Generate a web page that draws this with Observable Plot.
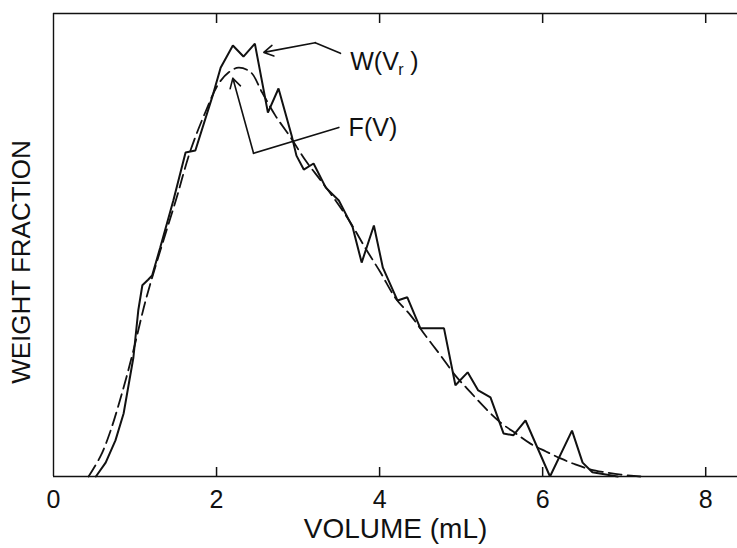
<!DOCTYPE html>
<html>
<head>
<meta charset="utf-8">
<script src="https://cdn.jsdelivr.net/npm/d3@7"></script>
<script src="https://cdn.jsdelivr.net/npm/@observablehq/plot@0.6"></script>
<style>
  html, body { margin: 0; padding: 0; background: #fff; }
  #chart svg { display: block; }
</style>
</head>
<body>
<div id="chart"></div>
<script>
// W(Vr): measured weight-fraction histogram (solid, jagged)
const volumeW = [0.52, 0.64, 0.76, 0.86, 0.98, 1.04, 1.09, 1.16, 1.21, 1.31, 1.47, 1.62, 1.74, 1.96, 2.05, 2.20, 2.33, 2.47, 2.63, 2.76, 2.92, 2.98, 3.07, 3.19, 3.34, 3.50, 3.67, 3.78, 3.93, 4.04, 4.22, 4.34, 4.50, 4.79, 4.93, 5.08, 5.21, 5.36, 5.52, 5.64, 5.79, 6.09, 6.36, 6.49, 6.61, 6.92];
const weightW = [0.000, 0.030, 0.078, 0.136, 0.257, 0.359, 0.413, 0.425, 0.434, 0.495, 0.596, 0.700, 0.704, 0.827, 0.883, 0.931, 0.907, 0.935, 0.786, 0.838, 0.737, 0.693, 0.663, 0.676, 0.624, 0.596, 0.538, 0.462, 0.542, 0.451, 0.380, 0.387, 0.320, 0.320, 0.197, 0.225, 0.186, 0.171, 0.093, 0.089, 0.121, 0.000, 0.099, 0.030, 0.009, 0.000];

// F(V): fitted smooth distribution (dashed)
const volumeF = [0.43, 0.58, 0.70, 0.85, 0.98, 1.13, 1.31, 1.50, 1.68, 1.87, 2.02, 2.15, 2.27, 2.42, 2.56, 2.72, 2.91, 3.09, 3.28, 3.46, 3.64, 3.83, 4.01, 4.20, 4.38, 4.56, 4.75, 4.93, 5.12, 5.30, 5.48, 5.67, 5.85, 6.04, 6.22, 6.40, 6.59, 6.77, 6.96, 7.20];
const fractionF = [0.000, 0.045, 0.099, 0.186, 0.272, 0.380, 0.488, 0.596, 0.704, 0.790, 0.847, 0.873, 0.883, 0.873, 0.829, 0.780, 0.732, 0.683, 0.639, 0.596, 0.549, 0.492, 0.441, 0.384, 0.348, 0.305, 0.261, 0.218, 0.181, 0.147, 0.117, 0.093, 0.071, 0.054, 0.039, 0.026, 0.015, 0.009, 0.004, 0.000];

const xTicks = [0, 2, 4, 6, 8];
const xTicksInner = [2, 4, 6, 8];
const xDomain = [0, 8.39];
const yDomain = [0, 1];

const xLabel = "VOLUME (mL)";
const yLabel = "WEIGHT FRACTION";

// annotation anchors (data coordinates)
const labelWPos = [3.64, 0.895];
const leaderW = [[3.52, 0.914], [3.21, 0.937]];
const arrowWEnd = [2.58, 0.916];
const labelFPos = [3.62, 0.752];
const leaderF = [[3.50, 0.754], [2.454, 0.698]];
const arrowFEnd = [2.20, 0.860];

const wData = volumeW.map((v, i) => ({v, w: weightW[i]}));
const fData = volumeF.map((v, i) => ({v, f: fractionF[i]}));

const ink = "#111";
const font = "'Liberation Sans', Arial, sans-serif";

const chart = Plot.plot({
  width: 737,
  height: 548,
  marginTop: 13,
  marginBottom: 72,
  marginLeft: 53,
  marginRight: 0,
  style: {fontFamily: font, background: "#fff", color: ink},
  x: {domain: xDomain, axis: null},
  y: {domain: yDomain, axis: null},
  marks: [
    // frame lines
    Plot.ruleY([yDomain[0]], {stroke: ink, strokeWidth: 1.6}),
    Plot.ruleY([yDomain[1]], {stroke: ink, strokeWidth: 1.4}),
    Plot.ruleX([xDomain[0]], {stroke: ink, strokeWidth: 1.4}),
    // inward ticks
    Plot.tickX(xTicksInner, {x: d => d, insetTop: 454, stroke: ink, strokeWidth: 1.5}),
    Plot.tickX(xTicksInner, {x: d => d, insetBottom: 453, stroke: ink, strokeWidth: 1.5}),
    // tick labels
    Plot.axisX(xTicks, {anchor: "bottom", tickSize: 0, tickPadding: 14, fontSize: 25, fill: ink, label: null}),
    // axis titles
    Plot.text([xLabel], {frameAnchor: "bottom", textAnchor: "middle", dy: 61, fontSize: 28, fill: ink, text: d => d}),
    Plot.text([yLabel], {frameAnchor: "left", textAnchor: "middle", dx: -32, dy: 17, rotate: -90, fontSize: 26, fill: ink, text: d => d}),
    // fitted F(V) dashed
    Plot.line(fData, {x: "v", y: "f", curve: "catmull-rom", stroke: ink, strokeWidth: 1.8, strokeDasharray: "13,6"}),
    // measured W(Vr) solid
    Plot.line(wData, {x: "v", y: "w", stroke: ink, strokeWidth: 2, strokeLinejoin: "miter"}),
    // leaders
    Plot.line(leaderW, {x: d => d[0], y: d => d[1], stroke: ink, strokeWidth: 1.6}),
    Plot.arrow([[leaderW[1], arrowWEnd]], {x1: d => d[0][0], y1: d => d[0][1], x2: d => d[1][0], y2: d => d[1][1], stroke: ink, strokeWidth: 1.6, headLength: 10}),
    Plot.line(leaderF, {x: d => d[0], y: d => d[1], stroke: ink, strokeWidth: 1.6}),
    Plot.arrow([[leaderF[1], arrowFEnd]], {x1: d => d[0][0], y1: d => d[0][1], x2: d => d[1][0], y2: d => d[1][1], stroke: ink, strokeWidth: 1.6, headLength: 10}),
    // labels
    Plot.text([labelWPos], {x: d => d[0], y: d => d[1], text: () => "W(V", textAnchor: "start", fontSize: 25, fill: ink}),
    Plot.text([labelWPos], {x: d => d[0], y: d => d[1], text: () => "r", textAnchor: "start", dx: 48, dy: 8, fontSize: 16, fill: ink}),
    Plot.text([labelWPos], {x: d => d[0], y: d => d[1], text: () => ")", textAnchor: "start", dx: 60, fontSize: 25, fill: ink}),
    Plot.text([labelFPos], {x: d => d[0], y: d => d[1], text: () => "F(V)", textAnchor: "start", fontSize: 25, fill: ink})
  ]
});
document.getElementById("chart").appendChild(chart);
</script>
</body>
</html>
